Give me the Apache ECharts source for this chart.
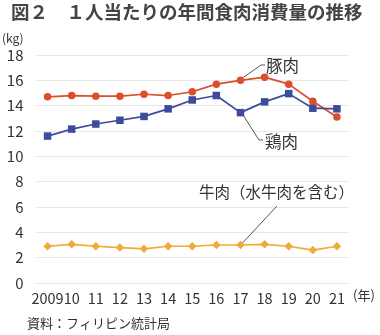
<!DOCTYPE html>
<html>
<head>
<meta charset="utf-8">
<script src="https://cdn.jsdelivr.net/npm/echarts@6/dist/echarts.min.js"></script>
<style>
  html, body { margin: 0; padding: 0; background: #fff; }
  #chart { width: 380px; height: 335px; }
</style>
</head>
<body>
<div id="chart"></div>
<script>
// Per-capita annual meat consumption in the Philippines (kg)
const years = ['2009', '10', '11', '12', '13', '14', '15', '16', '17', '18', '19', '20', '21'];
const pork = [14.7, 14.8, 14.75, 14.75, 14.9, 14.8, 15.1, 15.7, 16.0, 16.25, 15.7, 14.35, 13.1];
const chicken = [11.6, 12.15, 12.55, 12.85, 13.15, 13.75, 14.45, 14.8, 13.45, 14.3, 14.95, 13.8, 13.75];
const beef = [2.9, 3.05, 2.9, 2.8, 2.7, 2.9, 2.9, 3.0, 3.0, 3.05, 2.9, 2.6, 2.9];
const yTicks = [0, 2, 4, 6, 8, 10, 12, 14, 16, 18];

const FONT = '"Noto Sans CJK JP", "Noto Sans", sans-serif';
const RED = '#da4e2b';
const BLUE = '#3e4a9b';
const GOLD = '#f0aa36';

const chart = echarts.init(document.getElementById('chart'), null, { renderer: 'canvas' });

function lineSeries(name, data, color, symbol, size) {
  return {
    name, type: 'line', data,
    symbol, symbolSize: size,
    itemStyle: { color },
    lineStyle: { color, width: 1.7 },
    emphasis: { disabled: true },
    z: 3
  };
}

chart.setOption({
  animation: false,
  backgroundColor: '#fff',
  grid: { left: 35.5, right: 31, top: 55, bottom: 52 },
  xAxis: {
    type: 'category',
    data: years,
    boundaryGap: true,
    axisLine: { show: false },
    axisTick: { show: false },
    axisLabel: { color: '#333', fontSize: 14.5, fontFamily: FONT, margin: 8, interval: 0 }
  },
  yAxis: {
    type: 'value',
    min: yTicks[0], max: yTicks[yTicks.length - 1], interval: 2,
    axisLine: { show: false },
    axisTick: { show: false },
    axisLabel: { color: '#333', fontSize: 15, fontFamily: FONT, margin: 12 },
    splitLine: { lineStyle: { color: '#e9e9e9', width: 1 } }
  },
  series: [
    lineSeries('豚肉', pork, RED, 'circle', 7.5),
    lineSeries('鶏肉', chicken, BLUE, 'rect', 7.5),
    lineSeries('牛肉（水牛肉を含む）', beef, GOLD, 'diamond', 8.5)
  ]
});

// Annotation labels with leader lines pointing at the 2017 points
const idx = 8;
const pPork = chart.convertToPixel({ seriesIndex: 0 }, [idx, pork[idx]]);
const pChick = chart.convertToPixel({ seriesIndex: 1 }, [idx, chicken[idx]]);
const pBeef = chart.convertToPixel({ seriesIndex: 2 }, [idx, beef[idx]]);

const lineStyle = { stroke: '#555', lineWidth: 1 };
const txt = (x, y, text, size, extra) => ({
  type: 'text', x, y,
  style: Object.assign({ text, fill: '#333', fontSize: size, fontFamily: FONT }, extra || {})
});

chart.setOption({
  graphic: [
    txt(11, 3, '図２　１人当たりの年間食肉消費量の推移', 18.5, { fontWeight: 'bold', fill: '#444' }),
    txt(2, 32, '(kg)', 12),
    txt(353, 289, '(年)', 13),
    txt(27, 317, '資料：フィリピン統計局', 13),
    txt(266, 57, '豚肉', 16.5),
    txt(265, 133, '鶏肉', 16.5),
    txt(199, 184, '牛肉（水牛肉を含む）', 15.5),
    { type: 'polyline', shape: { points: [[pPork[0] + 3, pPork[1] - 3], [261, 65], [265, 65]] }, style: lineStyle, z: 10 },
    { type: 'polyline', shape: { points: [[pChick[0] + 3, pChick[1] + 3], [259, 140], [263, 140]] }, style: lineStyle, z: 10 },
    { type: 'line', shape: { x1: pBeef[0] + 2, y1: pBeef[1] - 2, x2: 277, y2: 206 }, style: lineStyle, z: 10 }
  ]
});
</script>
</body>
</html>
